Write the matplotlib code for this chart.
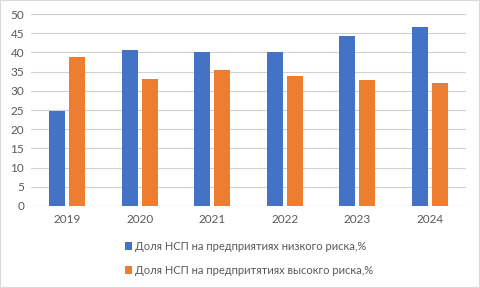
import matplotlib
matplotlib.use("Agg")
import matplotlib.pyplot as plt
from matplotlib.patches import Rectangle
import numpy as np

years = ["2019", "2020", "2021", "2022", "2023", "2024"]
low_risk = [24.7, 40.6, 40.1, 40.1, 44.3, 46.6]
high_risk = [38.8, 33.1, 35.4, 33.9, 32.8, 32.0]
label_low = "Доля НСП на предприятиях низкого риска,%"
label_high = "Доля НСП на предпритятиях высокго риска,%"

plt.rcParams['font.family'] = ['Lato', 'DejaVu Sans']
fig = plt.figure(figsize=(4.8, 2.88), dpi=100)
fig.patches.append(Rectangle((0, 0), 1, 1, transform=fig.transFigure,
                             fill=False, edgecolor='#d9d9d9', linewidth=1.5))
ax = fig.add_axes([0.0646, 0.285, 0.9064, 0.666])

x = np.arange(len(years))
w = 0.22
off = 0.138
ax.bar(x - off, low_risk, w, color='#4472c4', label=label_low, zorder=3)
ax.bar(x + off, high_risk, w, color='#ed7d31', label=label_high, zorder=3)

ax.set_xlim(-0.5, len(years) - 0.5)
ax.set_ylim(0, 50)
ax.set_yticks(np.arange(0, 51, 5))
ax.set_xticks(x)
ax.set_xticklabels(years)
ax.yaxis.grid(True, color='#d0d0d0', linewidth=0.8, zorder=0)
for s in ax.spines.values():
    s.set_visible(False)
ax.tick_params(length=0, colors='#595959', labelsize=8.5)
ax.tick_params(axis='x', pad=6)
ax.tick_params(axis='y', pad=5)
ax.axhline(0, color='#d0d0d0', linewidth=0.8, zorder=2)

handles, labels = ax.get_legend_handles_labels()
fig.legend(handles, labels, loc='upper left', bbox_to_anchor=(0.248, 0.182),
           frameon=False, fontsize=8, labelcolor='#595959', handlelength=0.7,
           handleheight=0.7, handletextpad=0.2, labelspacing=1.15, borderpad=0)
fig.savefig("out.png", dpi=100)
